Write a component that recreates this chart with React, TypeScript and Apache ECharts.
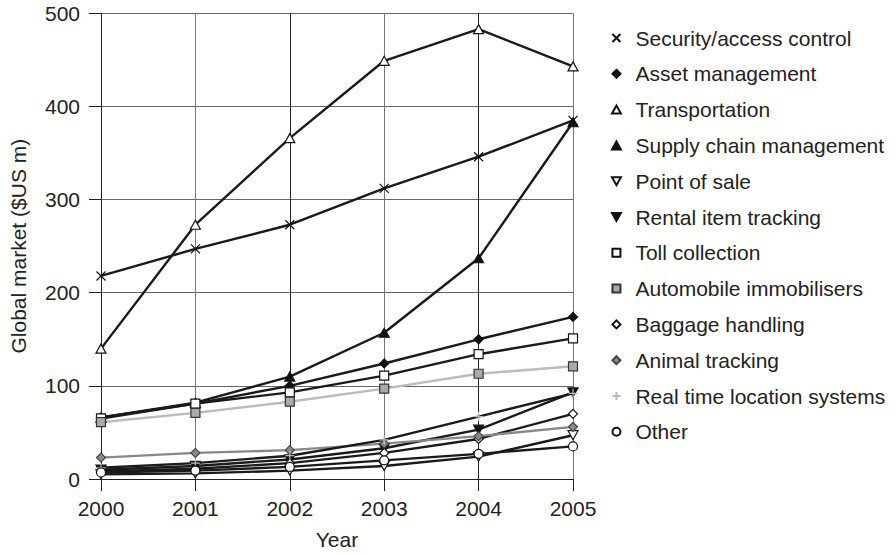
import React, { useEffect, useRef } from "react";
import * as echarts from "echarts";

const years = ["2000", "2001", "2002", "2003", "2004", "2005"];

const securityAccess = [218, 247, 273, 312, 346, 385];
const assetManagement = [66, 81, 100, 124, 150, 174];
const transportation = [140, 273, 366, 449, 483, 443];
const supplyChain = [66, 82, 110, 157, 237, 383];
const pointOfSale = [5, 6, 9, 14, 24, 47];
const rentalItem = [10, 14, 21, 33, 53, 93];
const tollCollection = [65, 81, 93, 111, 134, 151];
const automobileImmob = [61, 71, 83, 97, 113, 121];
const baggageHandling = [8, 11, 17, 28, 43, 70];
const animalTracking = [23, 28, 31, 38, 46, 56];
const realTimeLocation = [12, 17, 25, 42, 67, 92];
const otherApps = [7, 9, 13, 20, 27, 35];

const yTicks = [0, 100, 200, 300, 400, 500];

const P_CROSS = "path://M1,1L9,9M9,1L1,9";
const P_PLUS = "path://M5,0L5,10M0,5L10,5";
const P_DIAMOND = "path://M5,0L10,5L5,10L0,5Z";
const P_TRI_UP = "path://M5,0L10,9L0,9Z";
const P_TRI_DOWN = "path://M0,0L10,0L5,9Z";
const P_SQUARE = "path://M0,0L10,0L10,10L0,10Z";
const P_CIRCLE = "path://M5,0A5,5 0 1,1 5,10A5,5 0 1,1 5,0Z";

type Def = {
  name: string;
  data: number[];
  symbol: string;
  size: number;
  fill: string;
  stroke: string;
  line: string;
};

const defs: Def[] = [
  { name: "Security/access control", data: securityAccess, symbol: P_CROSS, size: 9, fill: "#111", stroke: "#111", line: "#1a1a1a" },
  { name: "Asset management", data: assetManagement, symbol: P_DIAMOND, size: 9, fill: "#111", stroke: "#111", line: "#1a1a1a" },
  { name: "Transportation", data: transportation, symbol: P_TRI_UP, size: 10, fill: "#fff", stroke: "#111", line: "#1a1a1a" },
  { name: "Supply chain management", data: supplyChain, symbol: P_TRI_UP, size: 10, fill: "#111", stroke: "#111", line: "#1a1a1a" },
  { name: "Point of sale", data: pointOfSale, symbol: P_TRI_DOWN, size: 10, fill: "#fff", stroke: "#111", line: "#1a1a1a" },
  { name: "Rental item tracking", data: rentalItem, symbol: P_TRI_DOWN, size: 10, fill: "#111", stroke: "#111", line: "#1a1a1a" },
  { name: "Toll collection", data: tollCollection, symbol: P_SQUARE, size: 9, fill: "#fff", stroke: "#111", line: "#1a1a1a" },
  { name: "Automobile immobilisers", data: automobileImmob, symbol: P_SQUARE, size: 9, fill: "#aaa", stroke: "#333", line: "#bbb" },
  { name: "Baggage handling", data: baggageHandling, symbol: P_DIAMOND, size: 9, fill: "#fff", stroke: "#111", line: "#1a1a1a" },
  { name: "Animal tracking", data: animalTracking, symbol: P_DIAMOND, size: 9, fill: "#888", stroke: "#444", line: "#888" },
  { name: "Real time location systems", data: realTimeLocation, symbol: P_PLUS, size: 9, fill: "#bbb", stroke: "#bbb", line: "#1a1a1a" },
  { name: "Other", data: otherApps, symbol: P_CIRCLE, size: 9, fill: "#fff", stroke: "#111", line: "#1a1a1a" },
];

const FONT = "'Liberation Sans', Arial, Helvetica, sans-serif";
const FS = 21;

export default function App() {
  const ref = useRef<HTMLDivElement>(null);
  useEffect(() => {
    if (!ref.current) return;
    const chart = echarts.init(ref.current, undefined, { renderer: "svg" });
    const option = {
      animation: false,
      backgroundColor: "#fff",
      textStyle: { fontFamily: FONT },
      grid: { left: 101, top: 13.3, right: 323, bottom: 72.3, containLabel: false },
      legend: {
        orient: "vertical",
        left: 606,
        top: 22,
        itemWidth: 28,
        itemHeight: 8,
        itemGap: 13.8,
        symbolKeepAspect: true,
        selectedMode: false,
        textStyle: { fontFamily: FONT, fontSize: FS, color: "#222", lineHeight: 22 },
        data: defs.map((d) => ({ name: d.name, icon: d.symbol })),
      },
      xAxis: {
        type: "category",
        data: years,
        boundaryGap: false,
        name: "Year",
        nameLocation: "middle",
        nameGap: 50,
        nameTextStyle: { fontFamily: FONT, fontSize: FS, color: "#222" },
        axisLine: { show: true, lineStyle: { color: "#222", width: 1 } },
        axisTick: { show: true, length: 12, lineStyle: { color: "#222" } },
        axisLabel: { margin: 19, fontFamily: FONT, fontSize: FS, color: "#222" },
        splitLine: { show: true, lineStyle: { color: ["#222", "#777"], width: 1 } },
      },
      yAxis: {
        type: "value",
        min: yTicks[0],
        max: yTicks[yTicks.length - 1],
        interval: 100,
        name: "Global market ($US m)",
        nameLocation: "middle",
        nameGap: 72,
        nameTextStyle: { fontFamily: FONT, fontSize: FS, color: "#222" },
        axisLine: { show: true, lineStyle: { color: "#222", width: 1 } },
        axisTick: { show: true, length: 12, lineStyle: { color: "#222" } },
        axisLabel: { margin: 21, fontFamily: FONT, fontSize: FS, color: "#222" },
        splitLine: { show: true, lineStyle: { color: "#666", width: 1 } },
      },
      series: defs.map((d) => ({
        name: d.name,
        type: "line",
        data: d.data,
        symbol: d.symbol,
        symbolSize: d.size,
        symbolKeepAspect: true,
        showAllSymbol: true,
        lineStyle: { color: d.line, width: 2.4 },
        itemStyle: { color: d.fill, borderColor: d.stroke, borderWidth: 1.2 },
        emphasis: { disabled: true },
      })),
    };
    chart.setOption(option as any);
    return () => chart.dispose();
  }, []);
  return (
    <div
      ref={ref}
      style={{ position: "fixed", left: 0, top: 0, width: 896, height: 555, background: "#fff" }}
    />
  );
}
